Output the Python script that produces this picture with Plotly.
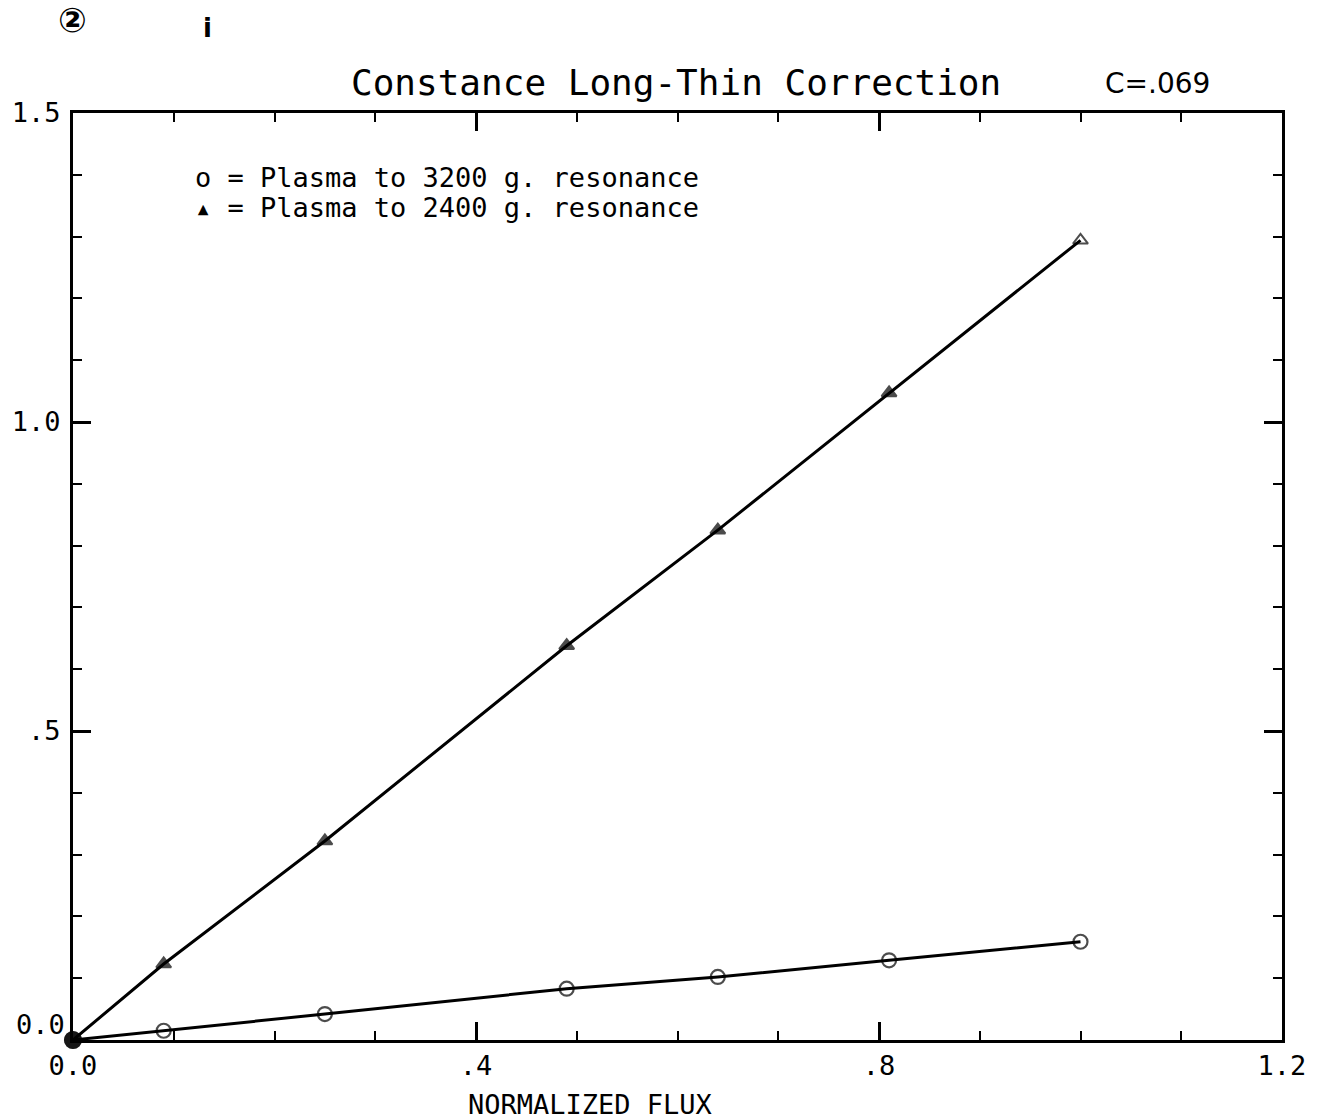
import plotly.graph_objects as go

flux = [0.0, 0.09, 0.25, 0.49, 0.64, 0.81, 1.0]
res_3200 = [0.0, 0.015, 0.042, 0.083, 0.102, 0.129, 0.159]
res_2400 = [0.0, 0.123, 0.322, 0.638, 0.825, 1.047, 1.294]

x_tickvals = [0.0, 0.4, 0.8, 1.2]
x_ticktext = ["0.0", ".4", ".8", "1.2"]
y_tickvals = [0.0, 0.5, 1.0, 1.5]
y_ticktext = ["", ".5", "1.0", "1.5"]

FONT = "DejaVu Sans Mono"
W, H = 1318, 1119
L, R, T, B = 63, 26, 113, 79

n = len(flux)
fig = go.Figure()
fig.add_trace(go.Scatter(
    x=flux, y=res_2400, mode="lines+markers", cliponaxis=False,
    line=dict(color="black", width=3),
    marker=dict(symbol=["circle"] + ["triangle-up"] * (n - 2) + ["triangle-up-open"],
                size=[16] + [13] * (n - 1), color="black",
                line=dict(color="black", width=2)),
    showlegend=False))
fig.add_trace(go.Scatter(
    x=flux, y=res_3200, mode="lines+markers", cliponaxis=False,
    line=dict(color="black", width=3),
    marker=dict(symbol=["circle"] + ["circle-open"] * (n - 1),
                size=[16] + [14] * (n - 1), color="black",
                line=dict(color="black", width=2.2)),
    showlegend=False))

def px(xp):
    return (xp - L) / (W - L - R)

def py(yp):
    return (H - B - yp) / (H - T - B)

annos = [
    dict(text="Constance Long-Thin Correction", x=px(676), y=py(83),
         font=dict(size=36, family=FONT)),
    dict(text="C=.069", x=px(1165), y=py(84), font=dict(size=28, family="DejaVu Sans")),
    dict(text="o = Plasma to 3200 g. resonance", x=px(185), y=py(177), xanchor="left",
         font=dict(size=27, family=FONT)),
    dict(text="\u25b4 = Plasma to 2400 g. resonance", x=px(185), y=py(207), xanchor="left",
         font=dict(size=27, family=FONT)),
    dict(text="NORMALIZED FLUX", x=px(589), y=py(1104),
         font=dict(size=27, family=FONT)),
    dict(text="<b>\u2461</b>", x=px(62), y=py(20), font=dict(size=34, family="DejaVu Sans")),
    dict(text="<b>i</b>", x=px(200), y=py(28), font=dict(size=26, family="DejaVu Sans")),
    dict(text="0.0", x=px(57), y=py(1024), xanchor="right",
         font=dict(size=27, family=FONT)),
]
for a in annos:
    a.setdefault("xanchor", "center")
    fig.add_annotation(xref="paper", yref="paper", showarrow=False, yanchor="middle",
                       font_color="black", **a)

axis_common = dict(showgrid=False, zeroline=False, showline=True, linecolor="black",
                   linewidth=3, mirror="allticks", ticks="inside", ticklen=18,
                   tickwidth=2.5, tickcolor="black", ticklabeloverflow="allow",
                   tickfont=dict(size=27, family=FONT, color="black"))
fig.update_xaxes(range=[0, 1.2], tickvals=x_tickvals, ticktext=x_ticktext,
                 minor=dict(dtick=0.1, tick0=0, ticks="inside", ticklen=9,
                            tickwidth=2, tickcolor="black"),
                 ticklabelstandoff=0, **axis_common)
fig.update_yaxes(range=[0, 1.5], tickvals=y_tickvals, ticktext=y_ticktext,
                 minor=dict(dtick=0.1, tick0=0, ticks="inside", ticklen=9,
                            tickwidth=2, tickcolor="black"),
                 ticklabelstandoff=4, **axis_common)

fig.update_layout(width=W, height=H, margin=dict(l=L, r=R, t=T, b=B),
                  plot_bgcolor="white", paper_bgcolor="white")

fig.write_html("out.html")
